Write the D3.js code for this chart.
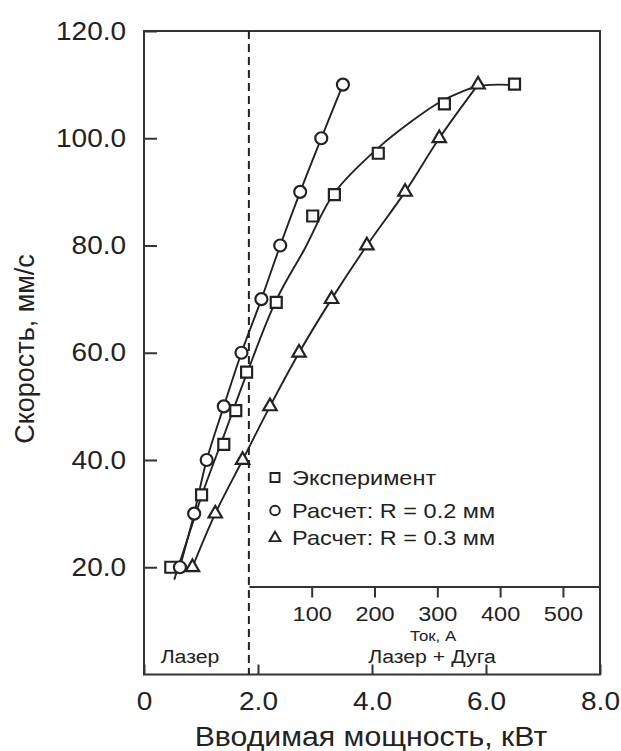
<!DOCTYPE html>
<html>
<head>
    <meta charset="utf-8">
    <title>Скорость и вводимая мощность</title>
    <script src="https://cdn.jsdelivr.net/npm/d3@7"></script>
    <style>
        body {
            margin: 0;
            background: #fff;
        }

        text {
            font-family: "Liberation Sans", Arial, sans-serif;
            fill: #222;
        }

        .axis line,
        .axis path {
            stroke: #333;
            stroke-width: 2;
        }
    </style>
</head>
<body>
    <div id="chart"></div>
    <script>
        // Values
        // Experiment (squares)
        const powerExp = [0.47, 1.01, 1.40, 1.61, 1.80, 2.32, 2.96, 3.34, 4.11, 5.27, 6.50];
        const speedExp = [20.0, 33.5, 42.9, 49.2, 56.4, 69.4, 85.5, 89.5, 97.2, 106.4, 110.1];
        // Trend line drawn through the experiment points
        const powerFit = [0.53, 0.80, 1.05, 1.40, 1.80, 2.32, 2.82, 3.34, 4.11, 4.70, 5.20, 5.60, 5.86, 6.20, 6.50];
        const speedFit = [17.7, 26.5, 34.5, 44.5, 56.0, 69.8, 79.4, 89.8, 98.2, 103.2, 106.8, 108.8, 109.7, 110.0, 109.9];
        // Calculation R = 0.2 mm (circles)
        const powerR02 = [0.63, 0.88, 1.10, 1.40, 1.71, 2.06, 2.39, 2.74, 3.11, 3.49];
        const speedR02 = [20, 30, 40, 50, 60, 70, 80, 90, 100, 110];
        // Calculation R = 0.3 mm (triangles)
        const powerR03 = [0.85, 1.25, 1.73, 2.21, 2.72, 3.29, 3.91, 4.58, 5.18, 5.86];
        const speedR03 = [20, 30, 40, 50, 60, 70, 80, 90, 100, 110];

        const tickY = [20, 40, 60, 80, 100, 120];
        const tickX = [0, 2, 4, 6, 8];
        const tickCurrent = [100, 200, 300, 400, 500];
        const laserLimit = 1.84; // kW, laser only / laser + arc boundary
        const currentMax = 559;  // A at the right edge of the inset axis
        const insetLevel = 16.4; // speed level of the current axis

        const legendLabels = ["Эксперимент", "Расчет: R = 0.2 мм", "Расчет: R = 0.3 мм"];

        const stretch = "scale(1.12,1)";
        const ink = "#222";

        const svg = d3.select("#chart").append("svg")
            .attr("width", 621)
            .attr("height", 751);

        const x = d3.scaleLinear().domain([0, 8]).range([144, 600]);
        const y = d3.scaleLinear().domain([0, 120]).range([674.5, 31]);
        const xCur = d3.scaleLinear().domain([0, currentMax]).range([x(laserLimit), x(8)]);

        const zip = (a, b) => a.map((v, i) => [v, b[i]]);

        // axes (ticks point inside the frame)
        svg.append("g")
            .attr("class", "axis")
            .attr("transform", "translate(" + x(0) + ",0)")
            .call(d3.axisLeft(y).tickValues(tickY).tickSizeInner(-13).tickSizeOuter(0)
                .tickPadding(16).tickFormat(d3.format(".1f")))
            .call(g => g.select(".domain").remove())
            .selectAll("text")
            .attr("font-size", 25)
            .attr("transform", stretch);

        svg.append("g")
            .attr("class", "axis")
            .attr("transform", "translate(0," + y(0) + ")")
            .call(d3.axisBottom(x).tickValues(tickX).tickSizeInner(-10).tickSizeOuter(0)
                .tickPadding(18).tickFormat(d => d === 0 ? "0" : d3.format(".1f")(d)))
            .call(g => g.select(".domain").remove())
            .selectAll("text")
            .attr("font-size", 25)
            .attr("transform", stretch);

        // current axis inside the plot
        svg.append("g")
            .attr("class", "axis")
            .attr("transform", "translate(0," + y(insetLevel) + ")")
            .call(d3.axisBottom(xCur).tickValues(tickCurrent).tickSizeInner(11).tickSizeOuter(0)
                .tickPadding(9))
            .selectAll("text")
            .attr("font-size", 21)
            .attr("transform", stretch);

        // frame
        svg.append("rect")
            .attr("x", x(0))
            .attr("y", y(120))
            .attr("width", x(8) - x(0))
            .attr("height", y(0) - y(120))
            .attr("fill", "none")
            .attr("stroke", "#333")
            .attr("stroke-width", 2);

        // dashed boundary
        svg.append("line")
            .attr("x1", x(laserLimit)).attr("x2", x(laserLimit))
            .attr("y1", y(120)).attr("y2", y(0))
            .attr("stroke", ink)
            .attr("stroke-width", 2)
            .attr("stroke-dasharray", "8,5");

        // curves
        const line = d3.line()
            .x(d => x(d[0]))
            .y(d => y(d[1]))
            .curve(d3.curveCatmullRom.alpha(0.5));

        [zip(powerFit, speedFit), zip(powerR02, speedR02), zip(powerR03, speedR03)].forEach(pts => {
            svg.append("path")
                .attr("d", line(pts))
                .attr("fill", "none")
                .attr("stroke", ink)
                .attr("stroke-width", 1.9);
        });

        // markers
        const series = [
            { pts: zip(powerExp, speedExp), type: d3.symbolSquare, size: 121, legendSize: 81 },
            { pts: zip(powerR02, speedR02), type: d3.symbolCircle, size: 113, legendSize: 72 },
            { pts: zip(powerR03, speedR03), type: d3.symbolTriangle, size: 78, legendSize: 52 }
        ];

        series.forEach(s => {
            svg.append("g")
                .selectAll("path")
                .data(s.pts)
                .enter().append("path")
                .attr("transform", d => "translate(" + x(d[0]) + "," + y(d[1]) + ")")
                .attr("d", d3.symbol().type(s.type).size(s.size))
                .attr("fill", "#fff")
                .attr("stroke", ink)
                .attr("stroke-width", 2.2);
        });

        // legend
        const legendBase = [484.5, 517.5, 545];
        const legend = svg.append("g")
            .selectAll("g")
            .data(legendLabels)
            .enter().append("g");

        legend.append("path")
            .attr("transform", (d, i) => "translate(275," + (legendBase[i] - 7) + ")")
            .attr("d", (d, i) => d3.symbol().type(series[i].type).size(series[i].legendSize)())
            .attr("fill", "#fff")
            .attr("stroke", ink)
            .attr("stroke-width", 1.9);

        legend.append("text")
            .attr("transform", (d, i) => "translate(292," + legendBase[i] + ") " + stretch)
            .attr("font-size", 21)
            .text(d => d);

        // region labels
        function label(txt, px, py, size) {
            svg.append("text")
                .attr("transform", "translate(" + px + "," + py + ") " + stretch)
                .attr("text-anchor", "middle")
                .attr("font-size", size)
                .text(txt);
        }

        label("Ток, А", 433, 641, 15);
        label("Лазер + Дуга", 432, 663, 19);
        label("Лазер", 190, 663, 19);

        // axis titles
        svg.append("text")
            .attr("transform", "translate(371,746) " + stretch)
            .attr("text-anchor", "middle")
            .attr("font-size", 27)
            .text("Вводимая мощность, кВт");

        svg.append("text")
            .attr("transform", "translate(34,349) rotate(-90)")
            .attr("text-anchor", "middle")
            .attr("font-size", 27)
            .text("Скорость, мм/с");
    </script>
</body>
</html>
